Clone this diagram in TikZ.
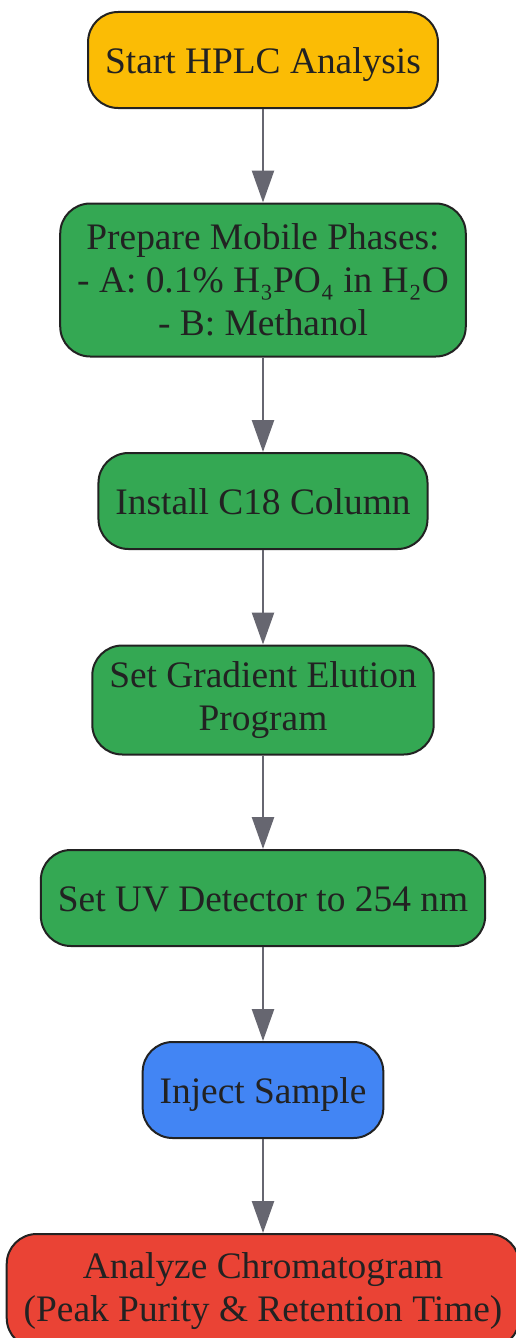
\documentclass[tikz,border=0pt]{standalone}
\usepackage{fontspec}
\setmainfont{Liberation Serif}
\usetikzlibrary{arrows.meta,positioning}
\definecolor{startcol}{HTML}{FBBC05}
\definecolor{stepcol}{HTML}{34A853}
\definecolor{injectcol}{HTML}{4285F4}
\definecolor{endcol}{HTML}{EA4335}
\definecolor{textcol}{HTML}{222222}
\definecolor{linecol}{HTML}{666670}
\tikzset{
    box/.style={draw=textcol, line width=2pt, rounded corners=30pt, text=textcol,
        align=center, inner xsep=17pt, inner ysep=0pt, minimum height=96pt,
        font=\fontsize{37.4}{43}\selectfont},
    oneline/.style={box, text height=30pt, text depth=3pt},
    flow/.style={draw=linecol, line width=2.5pt, -{Triangle[length=32pt,width=22pt]}}
}
\begin{document}
\begin{tikzpicture}[x=1pt,y=-1pt]
    \useasboundingbox (0,0) rectangle (515,1338);
    \node[oneline, fill=startcol] (start) at (263,60) {Start HPLC Analysis};
    \node[box, fill=stepcol, minimum height=153pt] (phases) at (263,280)
        {Prepare Mobile Phases:\\- A: 0.1\% H₃PO₄ in H₂O\\- B: Methanol};
    \node[oneline, fill=stepcol] (column) at (263,501) {Install C18 Column};
    \node[box, fill=stepcol, minimum height=109pt] (gradient) at (263,700)
        {Set Gradient Elution\\Program};
    \node[oneline, fill=stepcol] (detector) at (263,898) {Set UV Detector to 254 nm};
    \node[oneline, fill=injectcol] (inject) at (263,1090) {Inject Sample};
    \node[box, fill=endcol, minimum height=114pt] (analyze) at (263,1291)
        {Analyze Chromatogram\\(Peak Purity \& Retention Time)};
    % connectors
    \draw[flow] (start) -- (phases);
    \draw[flow] (phases) -- (column);
    \draw[flow] (column) -- (gradient);
    \draw[flow] (gradient) -- (detector);
    \draw[flow] (detector) -- (inject);
    \draw[flow] (inject) -- (analyze);
\end{tikzpicture}
\end{document}
